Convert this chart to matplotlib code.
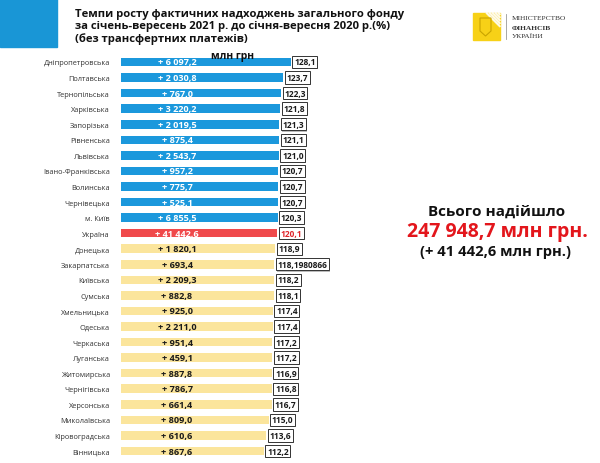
import matplotlib.pyplot as plt
from matplotlib.patches import Rectangle, Polygon

regions = ['Дніпропетровська', 'Полтавська', 'Тернопільська', 'Харківська', 'Запорізька',
           'Рівненська', 'Львівська', 'Івано-Франківська', 'Волинська', 'Чернівецька',
           'м. Київ', 'Україна', 'Донецька', 'Закарпатська', 'Київська', 'Сумська',
           'Хмельницька', 'Одеська', 'Черкаська', 'Луганська', 'Житомирська',
           'Чернігівська', 'Херсонська', 'Миколаївська', 'Кіровоградська', 'Вінницька']
growth = [128.1, 123.7, 122.3, 121.8, 121.3, 121.1, 121.0, 120.7, 120.7, 120.7,
          120.3, 120.1, 118.9, 118.1980866, 118.2, 118.1, 117.4, 117.4, 117.2, 117.2,
          116.9, 116.8, 116.7, 115.0, 113.6, 112.2]
growth_labels = ['128,1', '123,7', '122,3', '121,8', '121,3', '121,1', '121,0', '120,7',
                 '120,7', '120,7', '120,3', '120,1', '118,9', '118,1980866', '118,2',
                 '118,1', '117,4', '117,4', '117,2', '117,2', '116,9', '116,8', '116,7',
                 '115,0', '113,6', '112,2']
increase = ['+ 6 097,2', '+ 2 030,8', '+ 767,0', '+ 3 220,2', '+ 2 019,5', '+ 875,4',
            '+ 2 543,7', '+ 957,2', '+ 775,7', '+ 525,1', '+ 6 855,5', '+ 41 442,6',
            '+ 1 820,1', '+ 693,4', '+ 2 209,3', '+ 882,8', '+ 925,0', '+ 2 211,0',
            '+ 951,4', '+ 459,1', '+ 887,8', '+ 786,7', '+ 661,4', '+ 809,0',
            '+ 610,6', '+ 867,6']

BLUE = '#1b98dc'
RED = '#f0494b'
YELLOW = '#fbe59c'
FONT = 'Open Sans'

W, H = 600, 464
fig = plt.figure(figsize=(6, 4.64), dpi=100)


def fx(px):
    return px / W


def fy(py):
    return 1 - py / H


# blue block at top left
fig.patches.append(Rectangle((0, fy(48)), fx(57), 48 / H, transform=fig.transFigure,
                             color='#1996d6', zorder=0))

fig.text(fx(75), fy(27), 'Темпи росту фактичних надходжень загального фонду\n'
         'за січень-вересень 2021 р. до січня-вересня 2020 р.(%)\n'
         '(без трансфертних платежів)', family=FONT, fontsize=8.1, fontweight='bold',
         va='center', ha='left', linespacing=1.1, color='#111111')

# logo
fig.patches.append(Rectangle((fx(473), fy(41)), fx(27), 27 / H, transform=fig.transFigure,
                             color='#f7d117', zorder=1))
for k in range(5):
    x0 = 486 + k * 3
    fig.patches.append(Polygon([(fx(x0), fy(14)), (fx(x0 + 1.2), fy(14)),
                                (fx(500), fy(14 + (500 - x0 - 1.2))),
                                (fx(500), fy(14 + (500 - x0)))],
                               transform=fig.transFigure, color='white', alpha=0.8, zorder=2))
fig.patches.append(Polygon([(fx(480), fy(19)), (fx(491), fy(19)), (fx(491), fy(32)),
                            (fx(485.5), fy(37)), (fx(480), fy(32))],
                           transform=fig.transFigure, facecolor='none',
                           edgecolor='#c9a400', lw=0.8, zorder=3))
fig.lines.append(plt.Line2D([fx(506), fx(506)], [fy(15), fy(40)], transform=fig.transFigure,
                            color='#999999', lw=0.6))
fig.text(fx(512), fy(18), 'МІНІСТЕРСТВО', family='Liberation Serif', fontsize=5.3,
         va='center', color='#333333')
fig.text(fx(512), fy(28), 'ФІНАНСІВ', family='Liberation Serif', fontsize=5.3,
         fontweight='bold', va='center', color='#333333')
fig.text(fx(512), fy(37), 'УКРАЇНИ', family='Liberation Serif', fontsize=5.3,
         va='center', color='#333333')

# bars
left_px, right_px = 121, 400
px_per_unit = 1.698
x_start = 28
x_end = x_start + (right_px - left_px) / px_per_unit
top_px, bottom_px = 55.2, 459.8
ax = fig.add_axes([fx(left_px), fy(bottom_px), (right_px - left_px) / W,
                   (bottom_px - top_px) / H])

colors = [BLUE] * 11 + [RED] + [YELLOW] * 14
n = len(regions)
ypos = list(range(n))
ax.barh(ypos, [g - x_start for g in growth], left=x_start, height=0.55, color=colors)
ax.set_xlim(x_start, x_end)
ax.set_ylim(n - 0.5, -0.5)
ax.set_yticks(ypos)
ax.set_yticklabels(regions, family=FONT, fontsize=5.3, color='#333333')
ax.tick_params(axis='y', length=0, pad=8)
ax.set_xticks([])
for s in ax.spines.values():
    s.set_visible(False)

label_x = x_start + (177 - left_px) / px_per_unit
for i, (g, gl, inc, c) in enumerate(zip(growth, growth_labels, increase, colors)):
    tcol = 'white' if c != YELLOW else '#1a1a1a'
    ax.text(label_x, i, inc, ha='center', va='center', family=FONT, fontsize=6.6,
            fontweight='bold', color=tcol)
    vcol = '#e0262b' if c == RED else '#1a1a1a'
    # shadow
    ax.annotate(gl, (g, i), xytext=(3.0, -0.8), textcoords='offset points', ha='left',
                va='center', family=FONT, fontsize=6, fontweight='bold', color='none',
                bbox=dict(boxstyle='square,pad=0.2', fc='#bbbbbb', ec='none'))
    ax.annotate(gl, (g, i), xytext=(2.3, 0), textcoords='offset points', ha='left',
                va='center', family=FONT, fontsize=6, fontweight='bold', color=vcol,
                bbox=dict(boxstyle='square,pad=0.2', fc='white', ec='#333333', lw=0.7))

fig.text(fx(233), fy(56), 'млн грн', family=FONT, fontsize=7.5, fontweight='bold',
         ha='center', va='center', color='#111111')

# summary on the right
fig.text(fx(497), fy(212), 'Всього надійшло', family=FONT, fontsize=11, fontweight='bold',
         ha='center', va='center', color='#111111')
fig.text(fx(497), fy(232), '247 948,7 млн грн.', family=FONT, fontsize=14,
         fontweight='bold', ha='center', va='center', color='#e3161c')
fig.text(fx(496), fy(252), '(+ 41 442,6 млн грн.)', family=FONT, fontsize=10.6,
         fontweight='bold', ha='center', va='center', color='#111111')

fig.savefig('out.png', dpi=100)
